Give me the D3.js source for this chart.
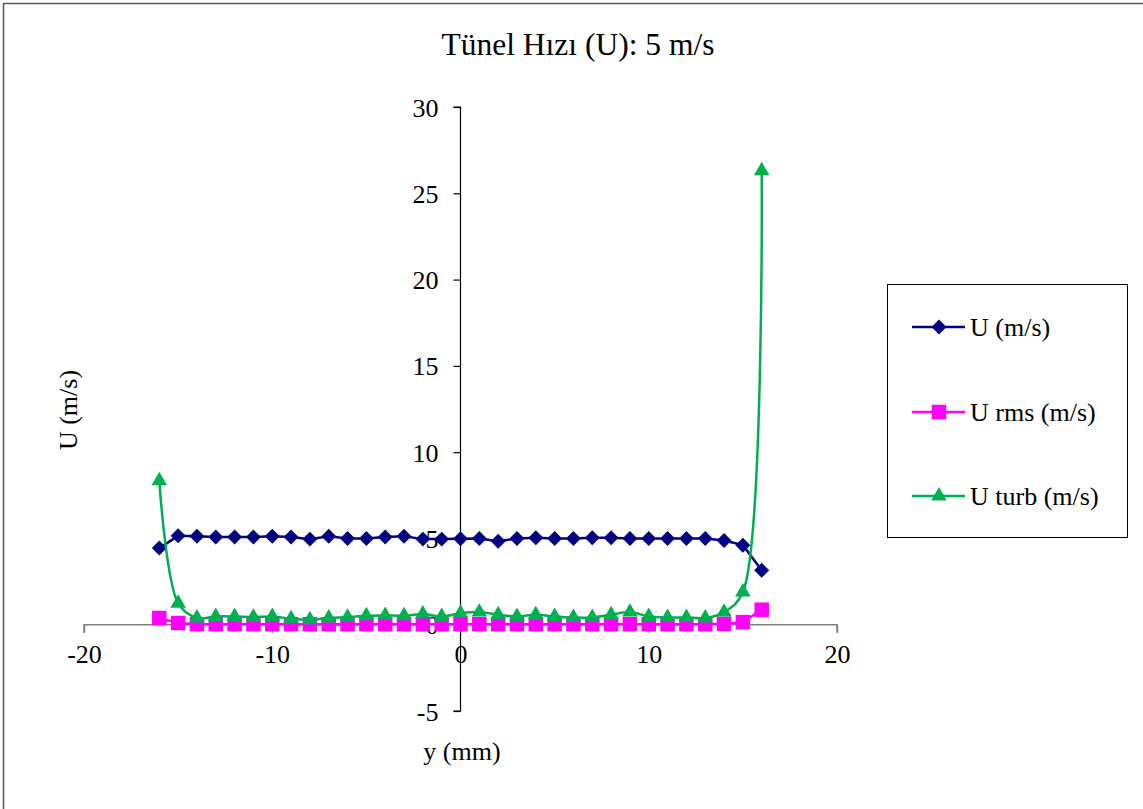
<html>
<head>
<meta charset="utf-8">
<script src="https://cdnjs.cloudflare.com/ajax/libs/d3/7.8.5/d3.min.js"></script>
<style>
body { margin:0; background:#fff; }
svg text { font-family: "Times New Roman", "Liberation Serif", "DejaVu Serif", serif !important; fill:#000; }
</style>
</head>
<body>
<svg width="1143" height="809"></svg>
<script>
// y (mm) positions
var yPos = [-16,-15,-14,-13,-12,-11,-10,-9,-8,-7,-6,-5,-4,-3,-2,-1,0,1,2,3,4,5,6,7,8,9,10,11,12,13,14,15,16];
// U (m/s)
var uVals = [4.44,5.15,5.12,5.08,5.08,5.08,5.12,5.08,4.96,5.12,5.0,5.0,5.08,5.12,4.96,4.96,4.98,
	5.0,4.84,5.0,5.04,5.0,5.0,5.04,5.04,5.0,5.0,5.0,5.0,5.0,4.88,4.61,3.15];
// U rms (m/s)
var rmsVals = [0.39,0.1,0.03,0.03,0.03,0.03,0.03,0.03,0.03,0.03,0.03,0.03,0.03,0.03,0.03,0.03,0.03,
	0.03,0.03,0.03,0.03,0.03,0.03,0.03,0.03,0.03,0.03,0.03,0.03,0.03,0.05,0.15,0.87];
// U turb (m/s)
var turbVals = [8.34,1.25,0.39,0.48,0.48,0.44,0.48,0.35,0.29,0.39,0.44,0.52,0.54,0.52,0.62,0.48,0.67,
	0.73,0.58,0.48,0.58,0.48,0.42,0.42,0.58,0.73,0.48,0.42,0.42,0.39,0.73,1.89,26.3];
var xTicks = [-20,-10,0,10,20];
var yTicks = [-5,0,5,10,15,20,25,30];
var seriesNames = ["U (m/s)", "U rms (m/s)", "U turb (m/s)"];

var width = 1143, height = 809;
var svg = d3.select("svg");

// chart frame
svg.append("rect")
	.attr("x", 3.5).attr("y", 3.5)
	.attr("width", 1160).attr("height", 830)
	.attr("fill", "none")
	.attr("stroke", "#555")
	.attr("stroke-width", 1.5);

var x = d3.scaleLinear().domain([-20, 20]).range([84, 837]);
var y = d3.scaleLinear().domain([-5, 30]).range([711, 107]);

// x axis crossing at y = 0
var gx = svg.append("g")
	.attr("transform", "translate(0," + y(0) + ")")
	.call(d3.axisBottom(x).tickValues(xTicks).tickSize(8).tickPadding(12).tickFormat(d => String(d)));
gx.attr("font-family", null);
gx.select(".domain").attr("stroke", "#808080").attr("stroke-width", 1.5)
	.attr("d", "M" + x(-20) + ",8V0H" + x(20) + "V8");
gx.selectAll(".tick line").attr("stroke", "#808080").attr("stroke-width", 1.5);
gx.selectAll(".tick text").style("font-size", "26px");

// y axis crossing at x = 0
var gy = svg.append("g")
	.attr("transform", "translate(" + x(0) + ",0)")
	.call(d3.axisLeft(y).tickValues(yTicks).tickSize(7).tickPadding(15).tickFormat(d => String(d)));
gy.attr("font-family", null);
gy.select(".domain").attr("stroke", "#000").attr("stroke-width", 1.2)
	.attr("d", "M-7," + y(30) + "H0V" + y(-5) + "H-7");
gy.selectAll(".tick line").attr("stroke", "#000").attr("stroke-width", 1.2);
gy.selectAll(".tick text").style("font-size", "26px").attr("dy", "0.35em");

// title and axis labels
svg.append("text")
	.attr("x", 578).attr("y", 55)
	.attr("text-anchor", "middle")
	.style("font-size", "31.5px")
	.text("Tünel Hızı (U): 5 m/s");
svg.append("text")
	.attr("x", 462).attr("y", 760)
	.attr("text-anchor", "middle")
	.style("font-size", "26px")
	.text("y (mm)");
svg.append("text")
	.attr("transform", "translate(77,410) rotate(-90)")
	.attr("text-anchor", "middle")
	.style("font-size", "26px")
	.text("U (m/s)");

var series = [
	{name: seriesNames[0], vals: uVals, color: "#000080", sym: "diamond", curve: d3.curveLinear},
	{name: seriesNames[1], vals: rmsVals, color: "#FF00FF", sym: "square", curve: d3.curveLinear},
	{name: seriesNames[2], vals: turbVals, color: "#00B050", sym: "triangle", curve: d3.curveCatmullRom.alpha(0.5)}
];

function marker(g, sym, color) {
	if (sym == "diamond") {
		g.append("path").attr("d", d3.symbol().type(d3.symbolSquare).size(112)())
			.attr("transform", "rotate(45)")
			.attr("fill", color);
	} else if (sym == "square") {
		g.append("path").attr("d", d3.symbol().type(d3.symbolSquare).size(210)()).attr("fill", color);
	} else {
		g.append("path").attr("d", d3.symbol().type(d3.symbolTriangle).size(105)()).attr("fill", color);
	}
}

series.forEach(function(s) {
	var pts = yPos.map(function(v, i) { return {x: v, y: s.vals[i]}; });
	var line = d3.line().x(d => x(d.x)).y(d => y(d.y)).curve(s.curve);
	svg.append("path")
		.datum(pts)
		.attr("fill", "none")
		.attr("stroke", s.color)
		.attr("stroke-width", 2.5)
		.attr("d", line);
	svg.selectAll(null)
		.data(pts)
		.enter()
		.append("g")
		.attr("transform", d => "translate(" + x(d.x) + "," + y(d.y) + ")")
		.each(function() { marker(d3.select(this), s.sym, s.color); });
});

// legend
var legend = svg.append("g");
legend.append("rect")
	.attr("x", 887.5).attr("y", 284.5)
	.attr("width", 240).attr("height", 253)
	.attr("fill", "#fff")
	.attr("stroke", "#000")
	.attr("stroke-width", 1);
var legY = [327, 412, 496];
series.forEach(function(s, i) {
	var lg = legend.append("g").attr("transform", "translate(0," + legY[i] + ")");
	lg.append("line").attr("x1", 912).attr("x2", 965).attr("y1", 0).attr("y2", 0)
		.attr("stroke", s.color).attr("stroke-width", 2.5);
	var mg = lg.append("g").attr("transform", "translate(939,0)");
	marker(mg, s.sym, s.color);
	lg.append("text").attr("x", 970).attr("y", 0).attr("dy", "0.35em")
		.style("font-size", "26px")
		.text(s.name);
});
</script>
</body>
</html>
